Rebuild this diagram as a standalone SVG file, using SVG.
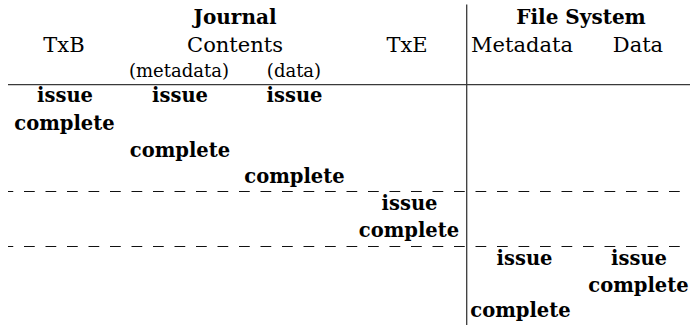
<svg xmlns="http://www.w3.org/2000/svg" width="690" height="325" viewBox="0 0 690 325">
<style>
text { font-family: "DejaVu Serif", "Liberation Serif", serif; fill: #000; text-anchor: middle; }
.h { font-size: 20px; font-weight: bold; }
.c { font-size: 21px; }
.s { font-size: 18px; }
.a { font-size: 19.5px; font-weight: bold; }
.rule { stroke: #3a3a3a; stroke-width: 1.3; fill: none; }
.dash { stroke: #111; stroke-width: 1; fill: none; stroke-dasharray: 10.75 10.75; stroke-dashoffset: 5.5; }
</style>
<rect width="690" height="325" fill="#fff"/>
<g id="header">
  <text class="h" x="235" y="24">Journal</text>
  <text class="h" x="581" y="24">File System</text>
  <text class="c" x="64" y="52">TxB</text>
  <text class="c" x="235" y="52">Contents</text>
  <text class="c" x="407" y="52">TxE</text>
  <text class="c" x="522" y="52">Metadata</text>
  <text class="c" x="638" y="52">Data</text>
  <text class="s" x="179" y="77">(metadata)</text>
  <text class="s" x="294" y="77">(data)</text>
</g>
<g id="connectors">
  <line class="rule" x1="8" y1="84.7" x2="690" y2="84.7"/>
  <line class="rule" x1="466.7" y1="4.5" x2="466.7" y2="325"/>
  <line class="dash" x1="8" y1="191.5" x2="680" y2="191.5"/>
  <line class="dash" x1="8" y1="246.5" x2="680" y2="246.5"/>
</g>
<g id="txb">
  <text class="a" x="65" y="102">issue</text>
  <text class="a" x="64.5" y="130">complete</text>
</g>
<g id="journal-metadata">
  <text class="a" x="180" y="102">issue</text>
  <text class="a" x="180" y="157">complete</text>
</g>
<g id="journal-data">
  <text class="a" x="294.5" y="102">issue</text>
  <text class="a" x="294.5" y="183">complete</text>
</g>
<g id="txe">
  <text class="a" x="409.5" y="210">issue</text>
  <text class="a" x="409" y="237">complete</text>
</g>
<g id="fs-metadata">
  <text class="a" x="524.5" y="265">issue</text>
  <text class="a" x="520.5" y="317">complete</text>
</g>
<g id="fs-data">
  <text class="a" x="639" y="265">issue</text>
  <text class="a" x="638.5" y="292">complete</text>
</g>
</svg>
